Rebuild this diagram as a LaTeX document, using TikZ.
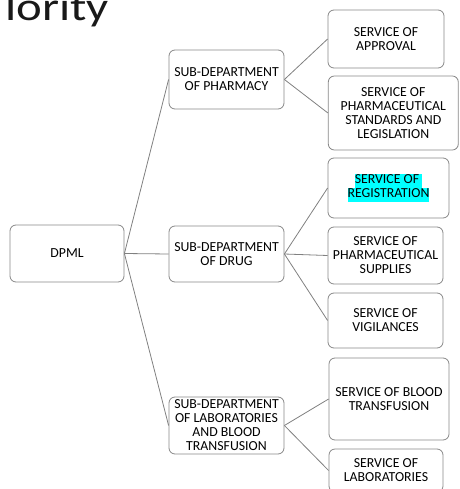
\documentclass[tikz,border=0pt]{standalone}
\usepackage{fontspec}
\setmainfont{Carlito}
\definecolor{hlcyan}{RGB}{0,255,255}
\definecolor{edgegray}{RGB}{128,128,128}
\definecolor{framegray}{RGB}{135,135,135}
\newcommand{\hlmark}[1]{{\setlength{\fboxsep}{0pt}\colorbox{hlcyan}{\strut #1}}}
\begin{document}
\begin{tikzpicture}[x=1pt,y=-1pt,
  unit/.style={draw=framegray, line width=0.8pt, rounded corners=6pt,
    align=center, inner sep=0pt, text=black,
    font=\fontsize{13.8}{14}\selectfont},
  link/.style={draw=edgegray, line width=0.8pt}]
\useasboundingbox (0,0) rectangle (459,489);

% heading
\node[anchor=base west, inner sep=0pt, xscale=1.22, transform shape,
      font=\fontsize{40}{44}\selectfont, text=black!90] (title) at (5,21) {lority};

% root
\node[unit, minimum width=114pt, minimum height=57pt] (dpml) at (67,253.5) {DPML};

% sub-departments
\node[unit, minimum width=115pt, minimum height=59pt] (pharm) at (226.5,79.5) {SUB-DEPARTMENT\\OF PHARMACY};
\node[unit, minimum width=115pt, minimum height=56pt] (drug) at (226.5,254) {SUB-DEPARTMENT\\OF DRUG};
\node[unit, minimum width=115pt, minimum height=57pt] (lab) at (226.5,425.5) {SUB-DEPARTMENT\\OF LABORATORIES\\AND BLOOD\\TRANSFUSION};

% services
\node[unit, minimum width=116pt, minimum height=58pt] (appr) at (386,39) {SERVICE OF\\APPROVAL};
\node[unit, minimum width=130pt, minimum height=74pt] (stand) at (393.3,113) {SERVICE OF\\PHARMACEUTICAL\\STANDARDS AND\\LEGISLATION};
\node[unit, minimum width=121pt, minimum height=60pt] (reg) at (388.5,188) {\hlmark{SERVICE OF\ }\\\hlmark{REGISTRATION}};
\node[unit, minimum width=115pt, minimum height=57pt] (supp) at (385.5,255.5) {SERVICE OF\\PHARMACEUTICAL\\SUPPLIES};
\node[unit, minimum width=115pt, minimum height=55pt] (vig) at (385.5,320.5) {SERVICE OF\\VIGILANCES};
\node[unit, minimum width=120pt, minimum height=82pt] (blood) at (389,399) {SERVICE OF BLOOD\\TRANSFUSION};
\node[unit, minimum width=114pt, minimum height=43pt] (labs) at (386,470.5) {SERVICE OF\\LABORATORIES};

% connectors
\draw[link] (dpml.east) -- (pharm.west);
\draw[link] (dpml.east) -- (drug.west);
\draw[link] (dpml.east) -- (lab.west);
\draw[link] (pharm.east) -- (appr.west);
\draw[link] (pharm.east) -- (stand.west);
\draw[link] (drug.east) -- (reg.west);
\draw[link] (drug.east) -- (supp.west);
\draw[link] (drug.east) -- (vig.west);
\draw[link] (lab.east) -- (blood.west);
\draw[link] (lab.east) -- (labs.west);
\end{tikzpicture}
\end{document}
